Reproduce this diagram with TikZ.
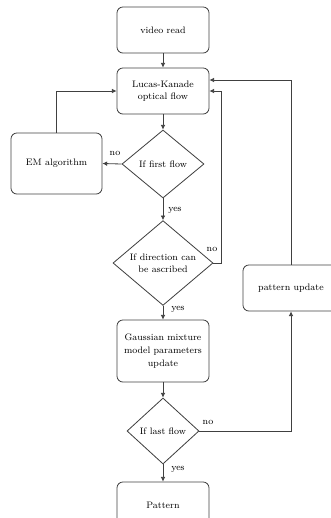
\documentclass[tikz,border=0pt]{standalone}
\usetikzlibrary{shapes.geometric,arrows.meta}

\begin{document}
\begin{tikzpicture}[x=0.03cm, y=-0.03cm,
  font=\fontsize{8}{10}\selectfont,
  line width=0.7pt, color=black!75, text=black,
  stepbox/.style={draw, rounded corners=5pt, align=center,
    minimum width=2.76cm, minimum height=1.38cm, inner sep=1pt},
  testbox/.style={draw, diamond, align=center, inner sep=0pt},
  flow/.style={-{Latex[length=4pt,width=4pt]}},
  lbl/.style={inner sep=0pt}]
\clip (0,0) rectangle (331,518);
% boxes
\node[stepbox] (read) at (163.000,30.000) {video read};
\node[stepbox] (lk) at (163.000,91.000) {Lucas-Kanade\\optical flow};
\node[testbox, minimum width=2.460cm, minimum height=2.040cm] (first) at (163.000,164.000) {If first flow};
\node[stepbox, minimum width=2.730cm, minimum height=1.830cm] (em) at (56.500,163.500) {EM algorithm};
\node[testbox, minimum width=3.000cm, minimum height=2.460cm] (dir) at (163.000,263.000) {If direction can\\be ascribed};
\node[stepbox, minimum height=1.860cm, font=\fontsize{8}{11}\selectfont] (gmm) at (163.000,351.000) {Gaussian mixture\\model parameters\\update};
\node[testbox, minimum width=2.160cm, minimum height=1.980cm] (last) at (163.000,431.000) {If last flow};
\node[stepbox] (pat) at (163.000,505.000) {Pattern};
\node[stepbox, minimum width=2.880cm] (upd) at (291.000,288.000) {pattern update};
\coordinate (dirturn) at (221.000,263.000);
% connectors
\draw[flow] (read) -- (lk);
\draw[flow] (lk) -- (first);
\draw[flow] (first.west) -- (em.east);
\draw[flow] (em.north) |- (lk.west);
\draw[flow] (first) -- (dir);
\draw[flow] (dir.east) -- (dirturn) |- (lk.east);
\draw[flow] (dir) -- (gmm);
\draw[flow] (gmm) -- (last);
\draw[flow] (last.east) -| (upd.south);
\draw[flow] (upd.north) |- ([yshift=0.330cm]lk.east);
\draw[flow] (last) -- (pat);
% labels
\node[lbl] (no1) at (115.000,153.000) {no};
\node[lbl] (yes1) at (175.000,210.000) {yes};
\node[lbl] (no2) at (212.000,249.000) {no};
\node[lbl] (yes2) at (178.000,309.000) {yes};
\node[lbl] (no3) at (208.000,422.000) {no};
\node[lbl] (yes3) at (178.000,469.000) {yes};
\end{tikzpicture}
\end{document}
